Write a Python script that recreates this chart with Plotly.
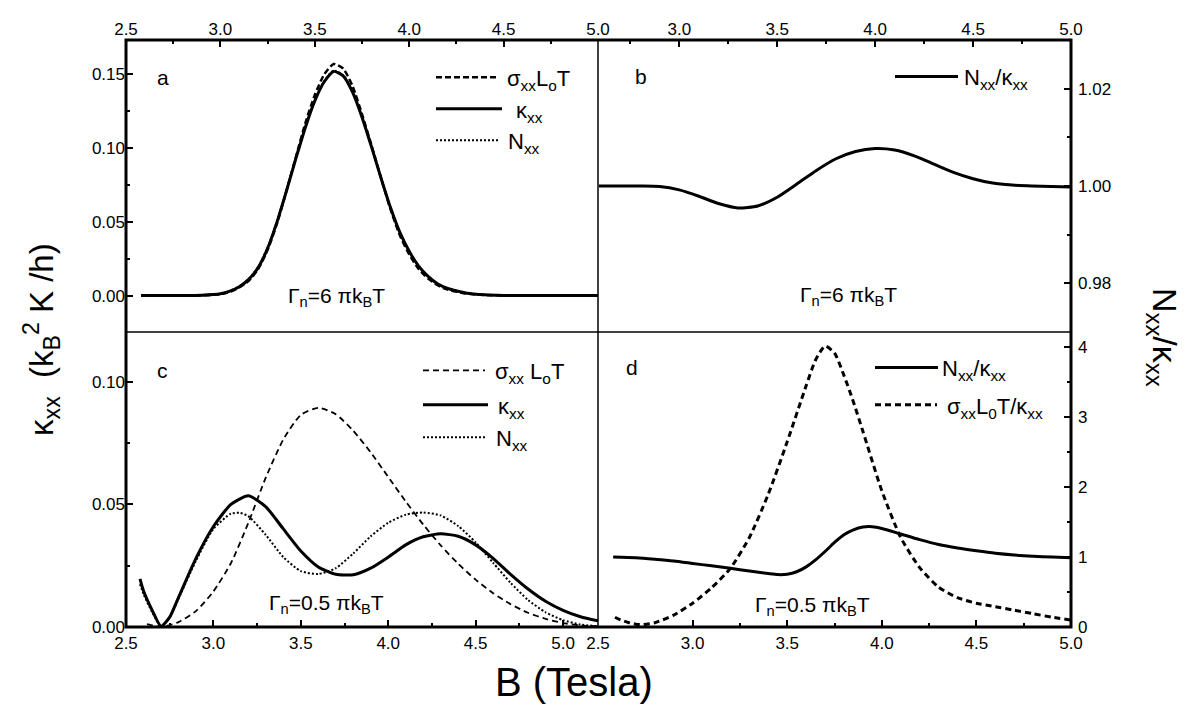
import plotly.graph_objects as go

# ---------------- data ----------------
# panel a (Gamma_n = 6 pi kB T)
xa = [2.58, 2.6, 2.7, 2.8, 2.9, 3.0, 3.05, 3.1, 3.15, 3.2, 3.25, 3.3, 3.35, 3.4, 3.45, 3.5, 3.55, 3.6,
      3.65, 3.7, 3.75, 3.8, 3.85, 3.9, 3.95, 4.0, 4.05, 4.1, 4.15, 4.2, 4.3, 4.4, 4.5, 4.6, 4.7, 4.8, 4.9, 5.0]
sigma_a = [0, 0, 0, 0, 0.0002, 0.001, 0.0025, 0.0055, 0.010, 0.018, 0.031, 0.049, 0.071, 0.094, 0.117, 0.136,
           0.150, 0.157, 0.154, 0.142, 0.123, 0.102, 0.080, 0.059, 0.041, 0.028, 0.018, 0.0115, 0.007, 0.0042,
           0.0014, 0.0004, 0.0001, 0, 0, 0, 0, 0]
kappa_a = [0, 0, 0, 0, 0.0002, 0.0012, 0.003, 0.006, 0.011, 0.019, 0.032, 0.050, 0.071, 0.093, 0.114, 0.132,
           0.145, 0.152, 0.149, 0.138, 0.121, 0.101, 0.080, 0.060, 0.043, 0.030, 0.020, 0.013, 0.008, 0.005,
           0.0018, 0.0005, 0.0001, 0, 0, 0, 0, 0]
nxx_a = [0, 0, 0, 0, 0.0002, 0.0012, 0.0031, 0.0062, 0.0113, 0.0195, 0.0325, 0.0505, 0.0715, 0.0935, 0.1145,
         0.1325, 0.1455, 0.1525, 0.1495, 0.1385, 0.1213, 0.1012, 0.0801, 0.0600, 0.0430, 0.0300, 0.0200,
         0.0130, 0.0080, 0.0050, 0.0018, 0.0005, 0.0001, 0, 0, 0, 0, 0]

# panel b
xb = [2.59, 2.7, 2.8, 2.9, 3.0, 3.1, 3.2, 3.3, 3.4, 3.5, 3.6, 3.7, 3.8, 3.9, 4.0, 4.1, 4.2, 4.3, 4.4, 4.5,
      4.6, 4.7, 4.8, 4.9, 5.0]
ratio_b = [1.0, 1.0, 1.0, 0.9999, 0.9992, 0.9979, 0.9964, 0.9955, 0.9959, 0.9977, 1.0004, 1.0032, 1.0056,
           1.0071, 1.0077, 1.0074, 1.0062, 1.0045, 1.0028, 1.0015, 1.0006, 1.0002, 1.0, 0.9999, 0.9998]

# panel c (Gamma_n = 0.5 pi kB T)
xc_s = [2.62, 2.7, 2.8, 2.9, 3.0, 3.1, 3.2, 3.3, 3.4, 3.5, 3.6, 3.7, 3.8, 3.9, 4.0, 4.1, 4.2, 4.3, 4.4, 4.5,
        4.6, 4.7, 4.8, 4.9, 5.0, 5.1, 5.2]
sigma_c = [0.0012, 0.0, 0.002, 0.0065, 0.0145, 0.026, 0.0425, 0.061, 0.0765, 0.0865, 0.0894, 0.0868, 0.0800,
           0.0712, 0.0612, 0.0512, 0.0418, 0.0333, 0.0258, 0.0193, 0.0138, 0.0093, 0.0058, 0.0033, 0.0016,
           0.0006, 0.0002]
xc_k = [2.58, 2.6, 2.65, 2.7, 2.75, 2.8, 2.9, 3.0, 3.1, 3.2, 3.3, 3.4, 3.5, 3.6, 3.7, 3.8, 3.9, 4.0, 4.1, 4.2,
        4.3, 4.4, 4.5, 4.6, 4.7, 4.8, 4.9, 5.0, 5.1, 5.2]
kappa_c = [0.0196, 0.0148, 0.0068, 0.0003, 0.004, 0.012, 0.028, 0.041, 0.050, 0.0535, 0.049, 0.040, 0.031,
           0.0245, 0.0215, 0.0213, 0.0240, 0.0285, 0.0335, 0.0368, 0.0380, 0.0370, 0.0335, 0.0280, 0.0215,
           0.0155, 0.0105, 0.0068, 0.0042, 0.0025]
xc_n = [2.58, 2.6, 2.65, 2.7, 2.75, 2.8, 2.9, 3.0, 3.1, 3.15, 3.2, 3.3, 3.4, 3.5, 3.6, 3.7, 3.8, 3.9, 4.0, 4.1,
        4.2, 4.3, 4.4, 4.5, 4.6, 4.7, 4.8, 4.9, 5.0, 5.1, 5.2]
nxx_c = [0.0175, 0.0135, 0.006, 0.0003, 0.0038, 0.0115, 0.027, 0.040, 0.0462, 0.0466, 0.0452, 0.0375, 0.0285,
         0.0228, 0.0216, 0.0240, 0.0300, 0.0370, 0.0425, 0.0458, 0.0467, 0.0455, 0.0412, 0.0345, 0.0262,
         0.0180, 0.0110, 0.0060, 0.0028, 0.0010, 0.0003]

# panel d
xd_r = [2.58, 2.7, 2.8, 2.9, 3.0, 3.1, 3.2, 3.3, 3.4, 3.45, 3.5, 3.55, 3.6, 3.65, 3.7, 3.75, 3.8, 3.85, 3.9,
        3.95, 4.0, 4.1, 4.2, 4.3, 4.4, 4.5, 4.6, 4.7, 4.8, 4.9, 5.0]
ratio_d = [1.0, 0.99, 0.97, 0.945, 0.91, 0.875, 0.84, 0.80, 0.765, 0.75, 0.755, 0.79, 0.86, 0.96, 1.08, 1.21,
           1.32, 1.39, 1.43, 1.435, 1.41, 1.33, 1.25, 1.18, 1.13, 1.09, 1.055, 1.03, 1.012, 1.0, 0.99]
xd_s = [2.59, 2.62, 2.66, 2.7, 2.74, 2.8, 2.9, 3.0, 3.1, 3.2, 3.3, 3.4, 3.5, 3.6, 3.65, 3.7, 3.75, 3.8, 3.85,
        3.9, 4.0, 4.1, 4.2, 4.3, 4.4, 4.5, 4.6, 4.7, 4.8, 4.9, 5.0]
sigma_d = [0.14, 0.10, 0.065, 0.04, 0.035, 0.06, 0.17, 0.34, 0.56, 0.84, 1.28, 1.90, 2.65, 3.45, 3.82, 4.02,
           3.92, 3.60, 3.22, 2.80, 1.95, 1.28, 0.85, 0.57, 0.42, 0.34, 0.29, 0.24, 0.19, 0.14, 0.10]

# ---------------- layout geometry (page pixels) ----------------
OFF = 8                      # default page margin around the plot div
W, H = 1202 - OFF, 706 - OFF
L, R, T, B = 126, 1071, 30, 627
XMID, YMID = 598, 327
FONT = "Liberation Sans, Arial, Helvetica, sans-serif"


def px(x):
    return (x - L) / (R - L)


def py(y):
    return (B - y) / (B - T)


xm = px(XMID)
ym = py(YMID)

fig = go.Figure()

DASH_A = "6px,3px"
DOT = "2px,2px"


def add(x, y, xa_, ya_, width, dash):
    fig.add_trace(go.Scatter(x=x, y=y, xaxis=xa_, yaxis=ya_, mode="lines",
                             line=dict(color="black", width=width, dash=dash, shape="spline", smoothing=0.6),
                             showlegend=False, hoverinfo="skip"))


add(xa, sigma_a, "x", "y", 2.5, DASH_A)
add(xa, nxx_a, "x", "y", 2, DOT)
add(xa, kappa_a, "x", "y", 3, "solid")

add(xb, ratio_b, "x2", "y2", 3, "solid")

add(xc_s, sigma_c, "x3", "y3", 1.8, "6px,4px")
add(xc_n, nxx_c, "x3", "y3", 2, DOT)
add(xc_k, kappa_c, "x3", "y3", 3, "solid")

add(xd_s, sigma_d, "x4", "y4", 3, "6px,4px")
add(xd_r, ratio_d, "x4", "y4", 3, "solid")

tickfont = dict(family=FONT, size=17, color="black")


def xax(dom, rng, side, anchor, standoff):
    return dict(domain=dom, range=rng, side=side, anchor=anchor, dtick=0.5, tick0=2.5, tickformat=".1f",
                ticks="inside", ticklen=7, tickwidth=2, tickcolor="black", showgrid=False, zeroline=False,
                showline=False, tickfont=tickfont, ticklabelstandoff=standoff,
                minor=dict(dtick=0.25, tick0=2.5, ticks="inside", ticklen=4, tickwidth=2, tickcolor="black"))


def yax(dom, rng, side, anchor, dtick, fmt, mdt, standoff):
    return dict(domain=dom, range=rng, side=side, anchor=anchor, dtick=dtick, tick0=0, tickformat=fmt,
                ticks="inside", ticklen=7, tickwidth=2, tickcolor="black", showgrid=False, zeroline=False,
                showline=False, tickfont=tickfont, ticklabelstandoff=standoff,
                minor=dict(dtick=mdt, tick0=0, ticks="inside", ticklen=4, tickwidth=2, tickcolor="black"))


fig.update_layout(
    width=W, height=H, autosize=False,
    margin=dict(l=L - OFF, r=1202 - R, t=T - OFF, b=706 - B, pad=0),
    paper_bgcolor="white", plot_bgcolor="white",
    font=dict(family=FONT, color="black"),
    xaxis=xax([0, xm], [2.5, 5.0], "top", "y", 1),
    yaxis=yax([ym, 1], [-0.0247, 0.1733], "left", "x", 0.05, ".2f", 0.025, 0),
    xaxis2=xax([xm, 1], [2.585, 5.0], "top", "y2", 1),
    yaxis2=yax([ym, 1], [0.97, 1.03], "right", "x2", 0.02, ".2f", 0.01, 6),
    xaxis3=xax([0, xm], [2.5, 5.2], "bottom", "y3", 4),
    yaxis3=yax([0, ym], [0, 0.1203], "left", "x3", 0.05, ".2f", 0.025, 0),
    xaxis4=xax([xm, 1], [2.5, 5.0], "bottom", "y4", 4),
    yaxis4=yax([0, ym], [0, 4.22], "right", "x4", 1, "d", 0.5, 6),
)

shapes = []
# outer frame and dividers
shapes.append(dict(type="rect", xref="paper", yref="paper", x0=0, x1=1, y0=0, y1=1,
                   line=dict(color="black", width=3)))
shapes.append(dict(type="line", xref="paper", yref="paper", x0=xm, x1=xm, y0=0, y1=1,
                   line=dict(color="black", width=1.5)))
shapes.append(dict(type="line", xref="paper", yref="paper", x0=0, x1=1, y0=ym, y1=ym,
                   line=dict(color="black", width=1.5)))

annotations = []


def leg_line(x0, x1, y, width, dash):
    shapes.append(dict(type="line", xref="paper", yref="paper", x0=px(x0), x1=px(x1), y0=py(y), y1=py(y),
                       line=dict(color="black", width=width, dash=dash)))


def text(x, y, s, size=21, xanchor="left", angle=0):
    annotations.append(dict(x=px(x), y=py(y), xref="paper", yref="paper", text=s, showarrow=False,
                            xanchor=xanchor, yanchor="middle", textangle=angle,
                            font=dict(family=FONT, size=size, color="black")))


# panel a legend
leg_line(436, 498, 68, 2.5, DASH_A)
text(505, 71, "σ<sub>xx</sub>L<sub>o</sub>T", 22)
leg_line(436, 502, 100, 3, "solid")
text(514, 103, "κ<sub>xx</sub>", 22)
leg_line(436, 500, 132, 2, DOT)
text(506, 135, "N<sub>xx</sub>", 22)
# panel b legend
leg_line(895, 958, 67, 3, "solid")
text(962, 70, "N<sub>xx</sub>/κ<sub>xx</sub>", 22)
# panel c legend
leg_line(423, 485, 366, 1.8, "6px,4px")
text(493, 369, "σ<sub>xx</sub> L<sub>o</sub>T", 22)
leg_line(423, 488, 401, 3, "solid")
text(496, 404, "κ<sub>xx</sub>", 22)
leg_line(423, 487, 434, 2, DOT)
text(494, 437, "N<sub>xx</sub>", 22)
# panel d legend
leg_line(875, 938, 363, 3, "solid")
text(940, 366, "N<sub>xx</sub>/κ<sub>xx</sub>", 22)
leg_line(875, 937, 401, 3, "6px,4px")
text(945, 404, "σ<sub>xx</sub>L<sub>0</sub>T/κ<sub>xx</sub>", 22)

# panel letters
text(155, 68, "a", 21)
text(633, 67, "b", 21)
text(155, 366, "c", 21)
text(624, 363, "d", 21)

# Gamma annotations
text(336, 291, "Γ<sub>n</sub>=6 πk<sub>B</sub>T", 21, "center")
text(848, 290, "Γ<sub>n</sub>=6 πk<sub>B</sub>T", 21, "center")
text(326, 604, "Γ<sub>n</sub>=0.5 πk<sub>B</sub>T", 21, "center")
text(812, 606, "Γ<sub>n</sub>=0.5 πk<sub>B</sub>T", 21, "center")

# axis titles
text(574, 683, "B (Tesla)", 40, "center")
text(42, 335, "κ<sub>xx</sub>  (k<sub>B</sub><sup>2</sup> K /h)", 33, "center", -90)
text(1162, 332, "N<sub>xx</sub>/κ<sub>xx</sub>", 34, "center", 90)

fig.update_layout(shapes=shapes, annotations=annotations)

fig.write_html("out.html")
